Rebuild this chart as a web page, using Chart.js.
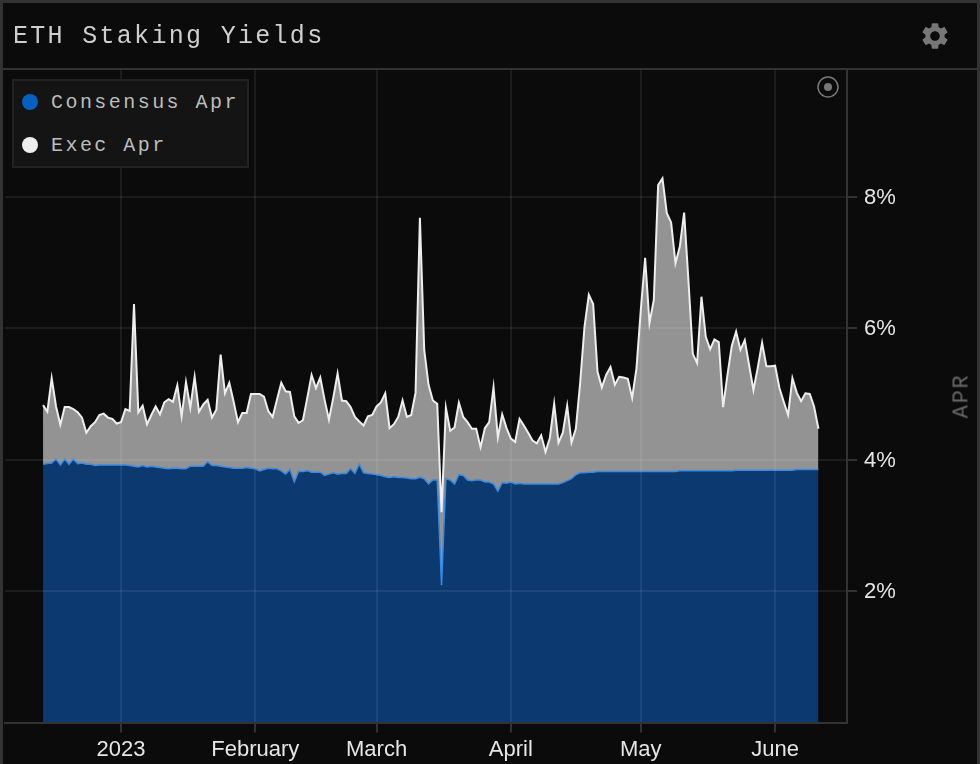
<!DOCTYPE html>
<html>
<head>
<meta charset="utf-8">
<title>ETH Staking Yields</title>
<script src="https://cdn.jsdelivr.net/npm/chart.js@4"></script>
<style>
    html, body { margin: 0; padding: 0; background: #0b0b0b; }
    #wrap { position: relative; width: 980px; height: 764px; overflow: hidden; background: #0b0b0b; }
    #wrap canvas { position: absolute; left: 0; top: 0; }
    .frame { position: absolute; background: #333; }
    #title { position: absolute; left: 13px; top: 22px; color: #cfcfcf; font: 25px "Liberation Mono", monospace; letter-spacing: 2.3px; white-space: pre; }
    #legend { position: absolute; left: 12px; top: 79px; width: 233px; height: 85px; background: #141414; border: 2px solid #222; }
    .legendRow { position: absolute; left: 0; color: #bdbdbd; font: 20px "Liberation Mono", monospace; letter-spacing: 2.45px; white-space: pre; }
    .legendRow i { position: absolute; left: 8px; top: 3px; width: 16px; height: 16px; border-radius: 50%; }
    .legendRow span { position: absolute; left: 37px; top: 0; }
    #aprLabel { position: absolute; left: 962px; top: 396px; color: #666; font: 22px "Liberation Mono", monospace; letter-spacing: 1.7px; transform: translate(-50%, -50%) rotate(-90deg); white-space: pre; }
    #gear { position: absolute; left: 919px; top: 20px; }
    #target { position: absolute; left: 817px; top: 76px; }
</style>
</head>
<body>
<div id="wrap">
    <canvas id="yieldChart" width="980" height="764"></canvas>
    <div class="frame" style="left:0;top:0;width:980px;height:3px"></div>
    <div class="frame" style="left:0;top:0;width:3px;height:764px"></div>
    <div class="frame" style="left:977px;top:0;width:3px;height:764px"></div>
    <div class="frame" style="left:3px;top:68px;width:974px;height:2px"></div>
    <div id="title">ETH Staking Yields</div>
    <div id="legend"></div>
    <div id="aprLabel">APR</div>
    <svg id="gear" width="32" height="32" viewBox="0 0 24 24"><path fill="#777" d="M19.14 12.94c.04-.3.06-.61.06-.94 0-.32-.02-.64-.07-.94l2.03-1.58c.18-.14.23-.41.12-.61l-1.92-3.32c-.12-.22-.37-.29-.59-.22l-2.39.96c-.5-.38-1.03-.7-1.62-.94l-.36-2.54c-.04-.24-.24-.41-.48-.41h-3.84c-.24 0-.43.17-.47.41l-.36 2.54c-.59.24-1.13.57-1.62.94l-2.39-.96c-.22-.08-.47 0-.59.22L2.74 8.87c-.12.21-.08.47.12.61l2.03 1.58c-.05.3-.09.63-.09.94s.02.64.07.94l-2.03 1.58c-.18.14-.23.41-.12.61l1.92 3.32c.12.22.37.29.59.22l2.39-.96c.5.38 1.03.7 1.62.94l.36 2.54c.05.24.24.41.48.41h3.84c.24 0 .44-.17.47-.41l.36-2.54c.59-.24 1.13-.56 1.62-.94l2.39.96c.22.08.47 0 .59-.22l1.92-3.32c.12-.22.07-.47-.12-.61l-2.01-1.58zM12 15.6c-1.98 0-3.6-1.62-3.6-3.6s1.62-3.6 3.6-3.6 3.6 1.62 3.6 3.6-1.62 3.6-3.6 3.6z"/></svg>
    <svg id="target" width="22" height="22" viewBox="0 0 22 22"><circle cx="11" cy="11" r="10" fill="none" stroke="#777" stroke-width="1.5"/><circle cx="11" cy="11" r="4" fill="#777"/></svg>
</div>
<script>
// Days counted from 2023-01-01, one reading per day starting Dec 14
const firstDay = -18;

const consensusApr = [
    3.93, 3.94, 3.95, 4.01, 3.92, 4.01, 3.93, 4.01, 3.94, 3.95,
    3.93, 3.93, 3.91, 3.92, 3.92, 3.92, 3.92, 3.92, 3.92, 3.92,
    3.91, 3.90, 3.89, 3.91, 3.89, 3.90, 3.89, 3.88, 3.87, 3.86,
    3.87, 3.87, 3.86, 3.86, 3.90, 3.90, 3.90, 3.90, 3.97, 3.91,
    3.91, 3.90, 3.89, 3.88, 3.87, 3.87, 3.87, 3.88, 3.87, 3.86,
    3.83, 3.85, 3.87, 3.86, 3.86, 3.83, 3.78, 3.85, 3.66, 3.82,
    3.82, 3.83, 3.81, 3.81, 3.81, 3.76, 3.78, 3.80, 3.78, 3.79,
    3.79, 3.86, 3.79, 3.93, 3.80, 3.79, 3.78, 3.77, 3.76, 3.74,
    3.73, 3.74, 3.73, 3.73, 3.72, 3.71, 3.71, 3.73, 3.71, 3.63,
    3.69, 3.69, 2.09, 3.71, 3.69, 3.63, 3.77, 3.76, 3.69, 3.68,
    3.69, 3.69, 3.66, 3.66, 3.63, 3.52, 3.65, 3.64, 3.66, 3.63,
    3.64, 3.63, 3.63, 3.63, 3.63, 3.63, 3.63, 3.63, 3.63, 3.63,
    3.65, 3.68, 3.71, 3.77, 3.80, 3.80, 3.81, 3.81, 3.82, 3.82,
    3.82, 3.82, 3.82, 3.82, 3.82, 3.82, 3.82, 3.82, 3.82, 3.82,
    3.82, 3.82, 3.82, 3.82, 3.82, 3.82, 3.82, 3.83, 3.83, 3.83,
    3.83, 3.83, 3.83, 3.83, 3.83, 3.83, 3.83, 3.83, 3.83, 3.83,
    3.84, 3.84, 3.84, 3.84, 3.84, 3.84, 3.84, 3.84, 3.84, 3.84,
    3.84, 3.84, 3.84, 3.84, 3.85, 3.85, 3.85, 3.85, 3.85, 3.85
];

const execApr = [
    0.90, 0.79, 1.29, 0.80, 0.61, 0.79, 0.87, 0.76, 0.78, 0.69,
    0.48, 0.58, 0.66, 0.76, 0.78, 0.72, 0.70, 0.63, 0.65, 0.85,
    0.83, 2.47, 0.83, 0.91, 0.65, 0.78, 0.92, 0.81, 1.00, 1.06,
    1.01, 1.26, 0.80, 1.32, 0.89, 1.36, 0.83, 0.94, 0.94, 0.73,
    0.85, 1.70, 1.12, 1.29, 1.01, 0.70, 0.84, 0.83, 1.13, 1.14,
    1.17, 1.11, 0.87, 0.79, 1.05, 1.34, 1.26, 1.18, 1.00, 0.74,
    0.78, 1.11, 1.48, 1.28, 1.44, 1.15, 0.83, 1.14, 1.53, 1.11,
    1.10, 0.94, 0.86, 0.65, 0.72, 0.87, 0.90, 1.04, 1.11, 1.27,
    0.75, 0.80, 0.92, 1.17, 0.93, 0.97, 1.31, 3.95, 1.96, 1.51,
    1.21, 1.16, 1.11, 1.08, 0.75, 0.86, 1.10, 0.89, 0.88, 0.79,
    0.78, 0.50, 0.82, 0.91, 1.47, 0.82, 1.04, 0.84, 0.66, 0.64,
    0.98, 0.89, 0.78, 0.66, 0.62, 0.74, 0.49, 0.70, 1.22, 0.63,
    0.76, 1.14, 0.55, 0.70, 1.37, 2.22, 2.70, 2.56, 1.52, 1.28,
    1.47, 1.59, 1.32, 1.44, 1.43, 1.41, 1.12, 1.57, 2.46, 3.25,
    2.26, 2.61, 4.36, 4.46, 3.93, 3.79, 3.17, 3.41, 3.93, 2.89,
    1.78, 1.64, 2.65, 2.04, 1.85, 2.00, 1.96, 0.97, 1.46, 1.90,
    2.11, 1.83, 1.98, 1.60, 1.22, 1.56, 1.94, 1.58, 1.58, 1.59,
    1.25, 1.04, 0.84, 1.40, 1.17, 1.04, 1.16, 1.15, 0.96, 0.62
];

const monthDays = [0, 31, 59, 90, 120, 151];
const monthLabels = ['2023', 'February', 'March', 'April', 'May', 'June'];
const aprTicks = [2, 4, 6, 8];

const seriesNames = ['Consensus Apr', 'Exec Apr'];
const legendColors = ['#0560c0', '#eeeeee'];

const gridColor = 'rgba(255, 255, 255, 0.07)';
const axisColor = '#333333';

function toPoints(values) {
    return values.map((v, i) => ({ x: firstDay + i, y: v }));
}

// Legend box is plain html, same as the title bar
const legendBox = document.getElementById('legend');
seriesNames.forEach((name, i) => {
    const row = document.createElement('div');
    row.className = 'legendRow';
    row.style.top = (i === 0 ? 10 : 53) + 'px';
    row.innerHTML = '<i style="background:' + legendColors[i] + '"></i><span>' + name + '</span>';
    legendBox.appendChild(row);
});

const ctx = document.getElementById('yieldChart').getContext('2d');

new Chart(ctx, {
    type: 'line',
    data: {
        datasets: [{
            label: seriesNames[0],
            data: toPoints(consensusApr),
            borderColor: '#3a8ae0',
            backgroundColor: '#0c3a70',
            borderWidth: 1.5,
            pointRadius: 0,
            tension: 0,
            fill: 'origin'
        },
        {
            label: seriesNames[1],
            data: toPoints(execApr),
            borderColor: '#eeeeee',
            backgroundColor: '#939393',
            borderWidth: 2,
            pointRadius: 0,
            tension: 0,
            fill: '-1'
        }]
    },
    options: {
        responsive: false,
        animation: false,
        layout: { padding: { left: 5, top: 70, right: 0, bottom: 0 } },
        plugins: {
            legend: { display: false },
            title: { display: false },
            tooltip: { enabled: false }
        },
        scales: {
            x: {
                type: 'linear',
                min: -26.78,
                max: 167.6,
                afterFit: function (scale) { scale.height = 41.5; },
                afterBuildTicks: function (scale) {
                    scale.ticks = monthDays.map(d => ({ value: d }));
                },
                afterTickToLabelConversion: function (scale) {
                    scale.ticks.forEach(t => {
                        t.label = monthLabels[monthDays.indexOf(t.value)];
                    });
                },
                // grid sits over the fills, border has to come after it or it never shows
                grid: { color: gridColor, lineWidth: 2, tickColor: axisColor, tickWidth: 2, tickLength: 10, z: 1 },
                border: { color: axisColor, width: 2, z: 2 },
                ticks: {
                    color: '#e6e6e6',
                    font: { family: '"Liberation Sans", sans-serif', size: 22 },
                    padding: 4,
                    maxRotation: 0,
                    autoSkip: false
                }
            },
            y: {
                position: 'right',
                stacked: true,
                min: 0,
                max: 9.93,
                afterFit: function (scale) { scale.width = 133; },
                afterBuildTicks: function (scale) {
                    scale.ticks = aprTicks.map(v => ({ value: v }));
                },
                grid: { color: gridColor, lineWidth: 2, tickColor: axisColor, tickWidth: 2, tickLength: 10, z: 1 },
                border: { color: axisColor, width: 2, z: 2 },
                ticks: {
                    color: '#e6e6e6',
                    font: { family: '"Liberation Sans", sans-serif', size: 22 },
                    padding: 7,
                    labelOffset: 1,
                    callback: function (value) { return value + '%'; }
                }
            }
        }
    }
});
</script>
</body>
</html>
